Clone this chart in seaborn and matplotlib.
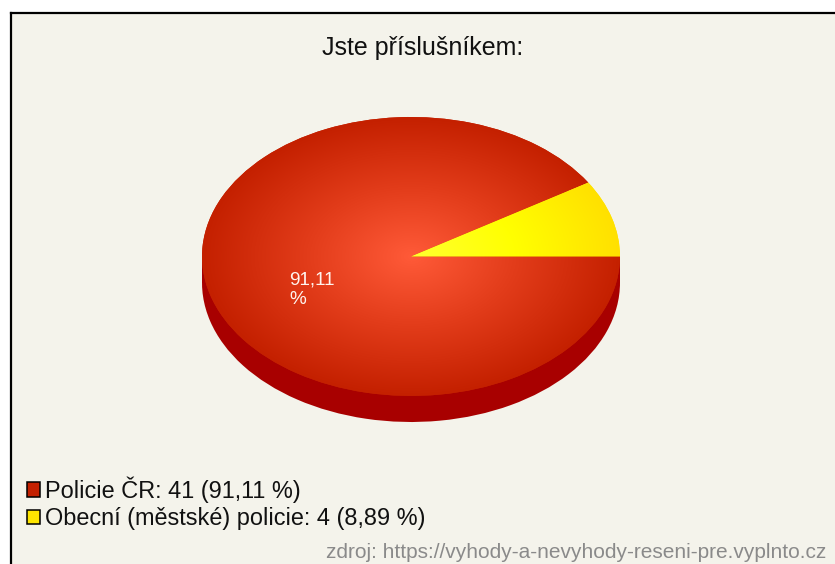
import numpy as np
import matplotlib
matplotlib.use('Agg')
import matplotlib.pyplot as plt
import matplotlib.colors as mcolors
from matplotlib.patches import Patch, Rectangle
import seaborn as sns

title = 'Jste příslušníkem:'
categories = ['Policie ČR', 'Obecní (městské) policie']
counts = [41, 4]
source = 'zdroj: https://vyhody-a-nevyhody-reseni-pre.vyplnto.cz'

bg = '#f4f3eb'
legend_colors = ['#c42000', '#ffe600']
side_color = '#a80000'
ramps = [['#ff5a38', '#e23c1a', '#c42000'], ['#ffff30', '#ffff00', '#ffe000']]

W, H = 835, 564
sns.set_theme(style='white')
plt.rcParams['font.family'] = ['Liberation Sans', 'DejaVu Sans']

total = sum(counts)
shares = [c / total * 100 for c in counts]
pct = [f'{s:.2f}'.replace('.', ',') for s in shares]

fig = plt.figure(figsize=(W / 100, H / 100), dpi=100, facecolor='white')

# panel with the black top and left edge
panel = fig.add_axes([11 / W, 0, (W - 11) / W, (H - 13) / H], facecolor=bg)
panel.set_xticks([])
panel.set_yticks([])
for side in ['right', 'bottom']:
    panel.spines[side].set_visible(False)
for side in ['top', 'left']:
    panel.spines[side].set_color('black')
    panel.spines[side].set_linewidth(1.6)

# unit circle stretched into an ellipse, the rest is the rim below it
depth = 0.187
ax = fig.add_axes([202 / W, (H - 422) / H, 418 / W, 305 / H])
ax.patch.set_alpha(0)
ax.axis('off')

flat = {'linewidth': 0, 'edgecolor': 'none'}
rim, _ = ax.pie(counts, colors=[side_color] * 2, center=(0, -depth), radius=1,
                startangle=shares[1] * 3.6, wedgeprops=flat)
ax.add_patch(Rectangle((-1, -depth), 2, depth, facecolor=side_color, edgecolor='none', lw=0))
wedges, _ = ax.pie(counts, colors=legend_colors, radius=1, startangle=shares[1] * 3.6,
                   wedgeprops=flat)

xx, yy = np.meshgrid(np.linspace(-1, 1, 600), np.linspace(-1, 1, 600))
rr = np.hypot(xx, yy)
for w, ramp in zip(wedges, ramps):
    cmap = mcolors.LinearSegmentedColormap.from_list('r', ramp)
    im = ax.imshow(rr, extent=(-1, 1, -1, 1), origin='lower', cmap=cmap, vmin=0, vmax=1,
                   zorder=3, aspect='auto')
    im.set_clip_path(w)

ax.set_aspect('auto')
ax.set_xlim(-1, 1)
ax.set_ylim(-1 - depth, 1)

ax.text(-0.583, -0.105, f'{pct[0]}\n%', color='#fff4ee', fontsize=13.6, va='top', ha='left',
        linespacing=1.25, zorder=5)

fig.text(422.5 / W, 1 - 48 / H, title, ha='center', va='center', fontsize=18, color='#111111')

handles = [Patch(facecolor=c, edgecolor='black', linewidth=1.1) for c in legend_colors]
labels = [f'{c}: {n} ({p} %)' for c, n, p in zip(categories, counts, pct)]
fig.legend(handles, labels, loc='lower left', bbox_to_anchor=(27 / W, 1 - 530 / H),
           borderaxespad=0, borderpad=0, frameon=False, fontsize=16.9, handlelength=0.55,
           handleheight=0.55, handletextpad=0.22, labelspacing=0.18, labelcolor='#111111')

fig.text(826 / W, 1 - 553 / H, source, ha='right', va='center', fontsize=15.05, color='#8a8a8a')

fig.savefig('out.png', dpi=100, facecolor='white')
